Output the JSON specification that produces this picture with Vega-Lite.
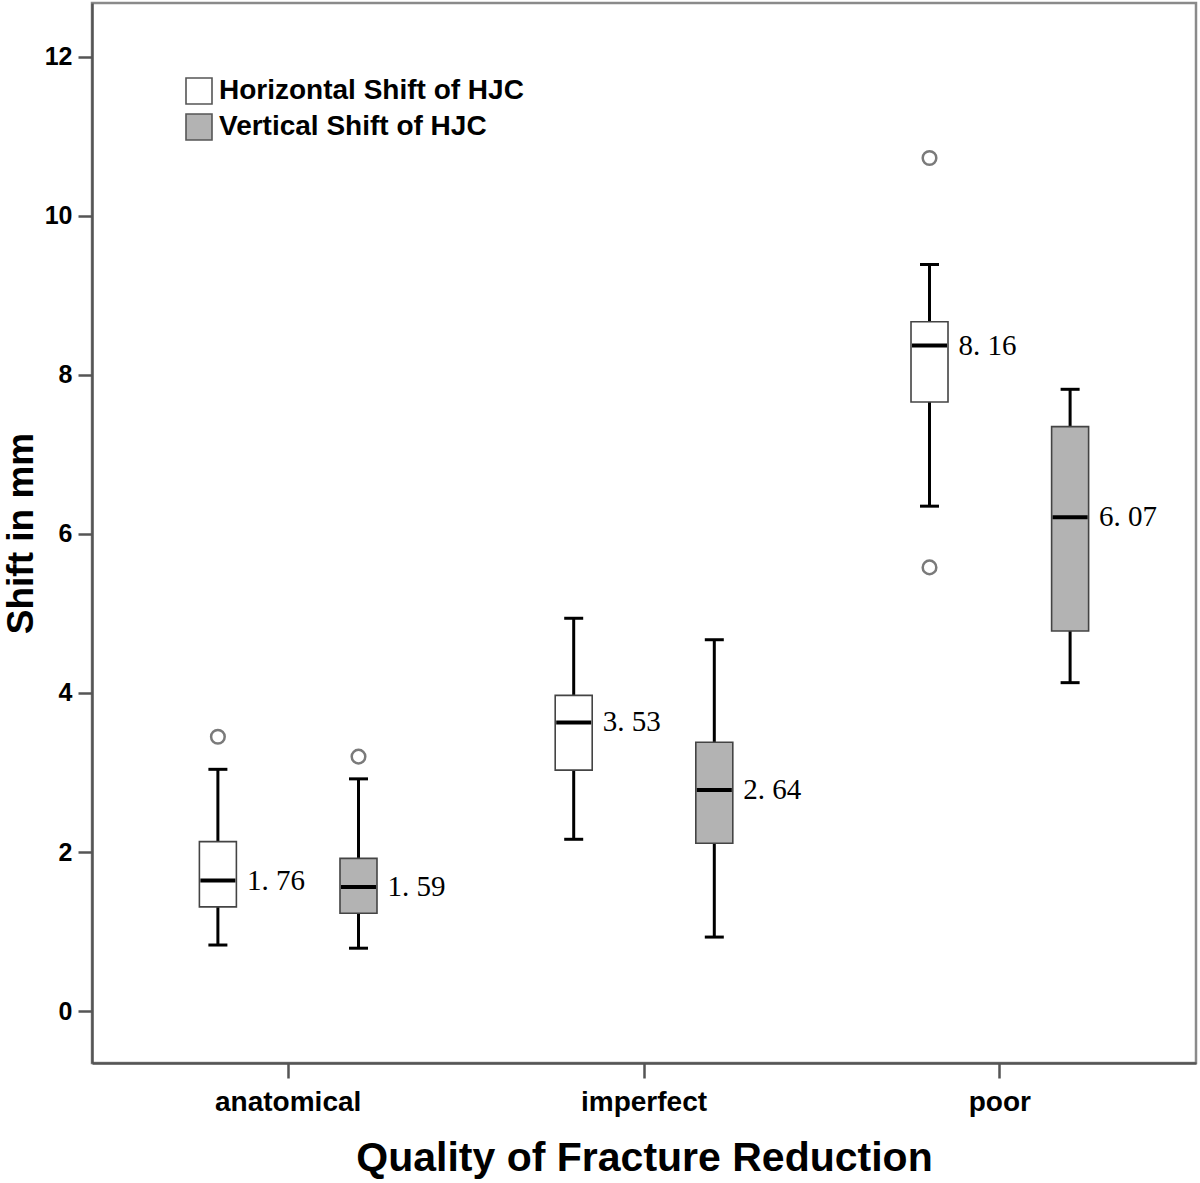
{
  "$schema": "https://vega.github.io/schema/vega-lite/v6.json",
  "autosize": "none",
  "width": 1104,
  "height": 1060,
  "padding": {"left": 92, "top": 3, "right": 4, "bottom": 120},
  "background": "white",
  "config": {
    "view": {"stroke": "#8a8a8a", "strokeWidth": 2.5},
    "font": "Liberation Sans"
  },
  "datasets": {
    "boxes": [
      {"quality": "anatomical", "shift": "Horizontal Shift of HJC", "lower": 0.83, "q1": 1.31, "median": 1.64, "q3": 2.13, "upper": 3.04, "mean": 1.76, "meanLabel": "1. 76"},
      {"quality": "anatomical", "shift": "Vertical Shift of HJC", "lower": 0.79, "q1": 1.23, "median": 1.56, "q3": 1.92, "upper": 2.92, "mean": 1.59, "meanLabel": "1. 59"},
      {"quality": "imperfect", "shift": "Horizontal Shift of HJC", "lower": 2.16, "q1": 3.03, "median": 3.63, "q3": 3.97, "upper": 4.94, "mean": 3.53, "meanLabel": "3. 53"},
      {"quality": "imperfect", "shift": "Vertical Shift of HJC", "lower": 0.93, "q1": 2.11, "median": 2.78, "q3": 3.38, "upper": 4.67, "mean": 2.64, "meanLabel": "2. 64"},
      {"quality": "poor", "shift": "Horizontal Shift of HJC", "lower": 6.35, "q1": 7.66, "median": 8.37, "q3": 8.67, "upper": 9.39, "mean": 8.16, "meanLabel": "8. 16"},
      {"quality": "poor", "shift": "Vertical Shift of HJC", "lower": 4.13, "q1": 4.78, "median": 6.21, "q3": 7.35, "upper": 7.82, "mean": 6.07, "meanLabel": "6. 07"}
    ],
    "outliers": [
      {"quality": "anatomical", "shift": "Horizontal Shift of HJC", "value": 3.45},
      {"quality": "anatomical", "shift": "Vertical Shift of HJC", "value": 3.2},
      {"quality": "poor", "shift": "Horizontal Shift of HJC", "value": 10.73},
      {"quality": "poor", "shift": "Horizontal Shift of HJC", "value": 5.58}
    ]
  },
  "encoding": {
    "x": {
      "field": "quality",
      "type": "nominal",
      "sort": ["anatomical", "imperfect", "poor"],
      "scale": {"type": "band", "paddingInner": 0, "paddingOuter": 0.0514},
      "axis": {
        "title": "Quality of Fracture Reduction",
        "labelAngle": 0,
        "labelFont": "Liberation Sans",
        "labelFontWeight": "bold",
        "labelFontSize": 28,
        "labelColor": "black",
        "labelPadding": 10,
        "tickSize": 15,
        "tickWidth": 2.5,
        "tickColor": "#555555",
        "domainColor": "#555555",
        "domainWidth": 2.5,
        "titleFont": "Liberation Sans",
        "titleFontWeight": "bold",
        "titleFontSize": 41,
        "titleColor": "black",
        "titlePadding": 22
      }
    },
    "xOffset": {
      "field": "shift",
      "type": "nominal",
      "scale": {"type": "band", "paddingInner": 0, "paddingOuter": 0.2653}
    }
  },
  "layer": [
    {
      "data": {"name": "boxes"},
      "mark": {"type": "rule", "color": "black", "strokeWidth": 3, "opacity": 1},
      "encoding": {
        "y": {
          "field": "lower",
          "type": "quantitative",
          "scale": {"domain": [-0.654, 12.679], "nice": false, "zero": false},
          "axis": {
            "title": "Shift in mm",
            "values": [0, 2, 4, 6, 8, 10, 12],
            "format": "d",
            "grid": false,
            "labelFont": "Liberation Sans",
            "labelFontWeight": "bold",
            "labelFontSize": 25,
            "labelColor": "black",
            "labelPadding": 6,
            "tickSize": 14,
            "tickWidth": 2.5,
            "tickColor": "#555555",
            "domainColor": "#555555",
            "domainWidth": 2.5,
            "titleFont": "Liberation Sans",
            "titleFontWeight": "bold",
            "titleFontSize": 37,
            "titleColor": "black",
            "titlePadding": 4
          }
        },
        "y2": {"field": "upper"}
      }
    },
    {
      "data": {"name": "boxes"},
      "mark": {"type": "tick", "color": "black", "size": 19, "thickness": 3, "opacity": 1},
      "encoding": {"y": {"field": "lower", "type": "quantitative"}}
    },
    {
      "data": {"name": "boxes"},
      "mark": {"type": "tick", "color": "black", "size": 19, "thickness": 3, "opacity": 1},
      "encoding": {"y": {"field": "upper", "type": "quantitative"}}
    },
    {
      "data": {"name": "boxes"},
      "mark": {"type": "bar", "width": 37, "stroke": "#444444", "strokeWidth": 1.6, "opacity": 1},
      "encoding": {
        "y": {"field": "q1", "type": "quantitative"},
        "y2": {"field": "q3"},
        "fill": {
          "field": "shift",
          "type": "nominal",
          "scale": {"domain": ["Horizontal Shift of HJC", "Vertical Shift of HJC"], "range": ["#ffffff", "#b3b3b3"]},
          "legend": {
            "title": null,
            "orient": "none",
            "legendX": 93,
            "legendY": 74,
            "padding": 0,
            "symbolType": "square",
            "symbolSize": 676,
            "symbolStrokeColor": "#555555",
            "symbolStrokeWidth": 1.6,
            "symbolOpacity": 1,
            "labelFont": "Liberation Sans",
            "labelFontWeight": "bold",
            "labelFontSize": 28,
            "labelColor": "black",
            "labelOffset": 6,
            "labelLimit": 600,
            "rowPadding": 2
          }
        }
      }
    },
    {
      "data": {"name": "boxes"},
      "mark": {"type": "tick", "color": "black", "size": 35, "thickness": 4, "opacity": 1},
      "encoding": {"y": {"field": "median", "type": "quantitative"}}
    },
    {
      "data": {"name": "outliers"},
      "mark": {"type": "point", "shape": "circle", "filled": false, "size": 185, "stroke": "#7a7a7a", "strokeWidth": 2.5, "opacity": 1},
      "encoding": {"y": {"field": "value", "type": "quantitative"}}
    },
    {
      "data": {"name": "boxes"},
      "mark": {"type": "text", "align": "left", "baseline": "middle", "dx": 29, "font": "Liberation Serif", "fontSize": 29, "color": "black"},
      "encoding": {
        "y": {"field": "median", "type": "quantitative"},
        "text": {"field": "meanLabel"}
      }
    }
  ]
}
